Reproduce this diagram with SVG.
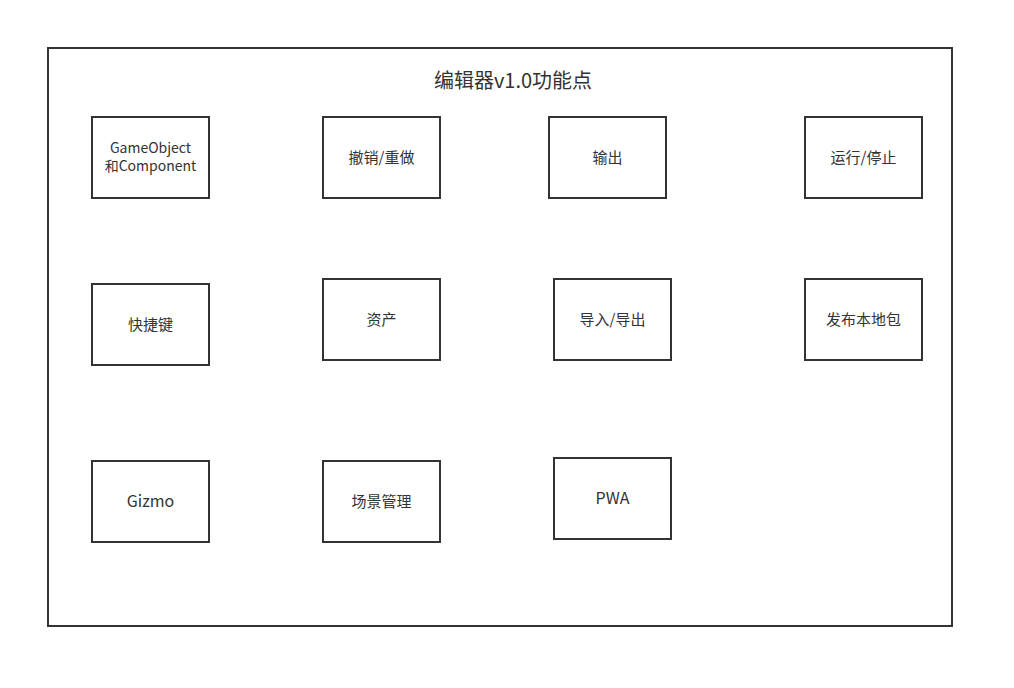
<svg xmlns="http://www.w3.org/2000/svg" width="1014" height="688" viewBox="0 0 1014 688">
<style>
.box{fill:#fff;stroke:#333;stroke-width:2}
.t{font-family:"Noto Sans CJK SC","Noto Sans",sans-serif;fill:#333;text-anchor:middle;dominant-baseline:central}
.l{font-size:15px}
.e{font-size:16px}
.s{font-size:14px}
</style>
<rect width="1014" height="688" fill="#fff"/>
<g id="frame">
<rect class="box" x="48" y="48" width="904" height="578"/>
<text class="t" x="513" y="79" font-size="20">编辑器v1.0功能点</text>
</g>
<g id="connectors"></g>
<g id="n1"><rect class="box" x="92" y="117" width="117" height="81"/><text class="t s" x="150.5" y="146.5">GameObject</text><text class="t s" x="150.5" y="164.5">和Component</text></g>
<g id="n2"><rect class="box" x="323" y="117" width="117" height="81"/><text class="t l" x="381.5" y="156">撤销/重做</text></g>
<g id="n3"><rect class="box" x="549" y="117" width="117" height="81"/><text class="t l" x="607.5" y="156">输出</text></g>
<g id="n4"><rect class="box" x="805" y="117" width="117" height="81"/><text class="t l" x="863.5" y="156">运行/停止</text></g>
<g id="n5"><rect class="box" x="92" y="284" width="117" height="81"/><text class="t l" x="150.5" y="323">快捷键</text></g>
<g id="n6"><rect class="box" x="323" y="279" width="117" height="81"/><text class="t l" x="381.5" y="318">资产</text></g>
<g id="n7"><rect class="box" x="554" y="279" width="117" height="81"/><text class="t l" x="612.5" y="318">导入/导出</text></g>
<g id="n8"><rect class="box" x="805" y="279" width="117" height="81"/><text class="t l" x="863.5" y="318">发布本地包</text></g>
<g id="n9"><rect class="box" x="92" y="461" width="117" height="81"/><text class="t e" x="150.5" y="500">Gizmo</text></g>
<g id="n10"><rect class="box" x="323" y="461" width="117" height="81"/><text class="t l" x="381.5" y="500">场景管理</text></g>
<g id="n11"><rect class="box" x="554" y="458" width="117" height="81"/><text class="t e" x="612.5" y="497">PWA</text></g>
</svg>
